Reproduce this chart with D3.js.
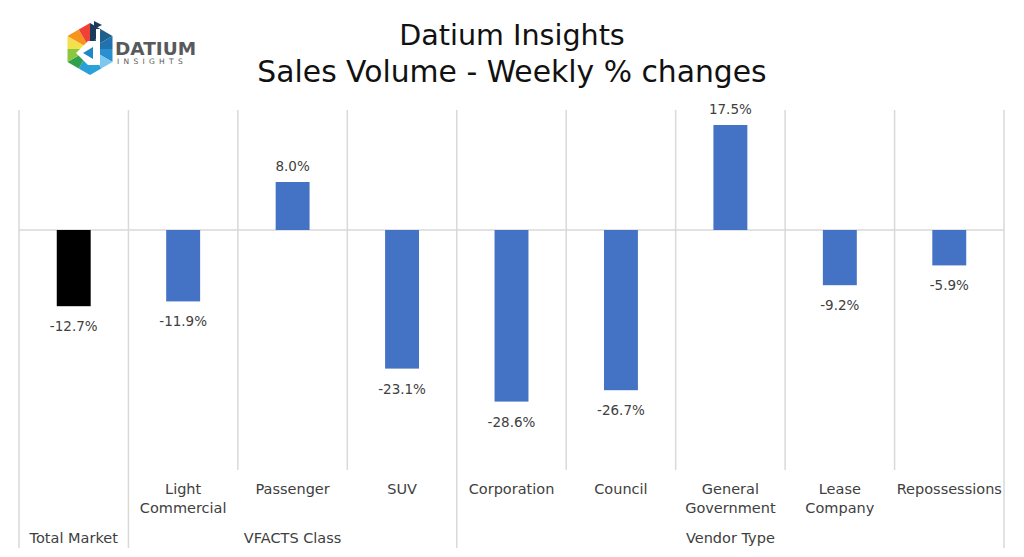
<!DOCTYPE html>
<html>
<head>
<meta charset="utf-8">
<script src="https://cdn.jsdelivr.net/npm/d3@7"></script>
<style>
  body { margin: 0; background: #fff; }
  svg { display: block; font-family: 'DejaVu Sans', sans-serif; }
</style>
</head>
<body>
<div class="chart"></div>
<script>
// Chart data
const categories = ['', 'Light\nCommercial', 'Passenger', 'SUV', 'Corporation', 'Council', 'General\nGovernment', 'Lease\nCompany', 'Repossessions']
const groups = ['Total Market', 'VFACTS Class', 'VFACTS Class', 'VFACTS Class', 'Vendor Type', 'Vendor Type', 'Vendor Type', 'Vendor Type', 'Vendor Type']
const values = [-12.7, -11.9, 8.0, -23.1, -28.6, -26.7, 17.5, -9.2, -5.9]
const barColors = ['#000000', '#4472c4', '#4472c4', '#4472c4', '#4472c4', '#4472c4', '#4472c4', '#4472c4', '#4472c4']

const width = 1024
const height = 557
const plotLeft = 19, plotRight = 1004, plotTop = 110, plotBottom = 470
const gridColor = '#d9d9d9'
const textColor = '#404040'

const svg = d3.select('.chart')
    .append('svg')
    .attr('width', width)
    .attr('height', height)

const xScale = d3.scaleBand()
    .domain(d3.range(values.length))
    .range([plotLeft, plotRight])
    .paddingInner(0.69)
    .paddingOuter(0.345)

const yScale = d3.scaleLinear()
    .domain([-40, 20])
    .range([plotBottom, plotTop])

const step = xScale.step()
const cellStart = i => xScale(i) - step * xScale.paddingInner() / 2

// vertical grid lines (category boundaries)
const bounds = d3.range(values.length + 1)
svg.append('g')
    .selectAll('line')
    .data(bounds)
    .enter()
    .append('line')
    .attr('x1', d => d < values.length ? cellStart(d) : cellStart(d - 1) + step)
    .attr('x2', d => d < values.length ? cellStart(d) : cellStart(d - 1) + step)
    .attr('y1', plotTop)
    .attr('y2', d => (d === 0 || d === values.length || groups[d] !== groups[d - 1]) ? 548 : plotBottom)
    .attr('stroke', gridColor)
    .attr('stroke-width', 1.5)

// zero line
svg.append('line')
    .attr('x1', plotLeft)
    .attr('x2', plotRight)
    .attr('y1', yScale(0))
    .attr('y2', yScale(0))
    .attr('stroke', gridColor)
    .attr('stroke-width', 1.5)

// bars
svg.append('g')
    .selectAll('rect')
    .data(values)
    .enter()
    .append('rect')
    .attr('x', (d, i) => xScale(i))
    .attr('y', d => yScale(Math.max(0, d)))
    .attr('width', xScale.bandwidth())
    .attr('height', d => Math.abs(yScale(d) - yScale(0)))
    .attr('fill', (d, i) => barColors[i])

// value labels
svg.append('g')
    .selectAll('text')
    .data(values)
    .enter()
    .append('text')
    .attr('x', (d, i) => xScale(i) + xScale.bandwidth() / 2)
    .attr('y', d => d >= 0 ? yScale(d) - 11 : yScale(d) + 25)
    .attr('text-anchor', 'middle')
    .attr('font-size', 13.5)
    .attr('fill', textColor)
    .text(d => d.toFixed(1) + '%')

// category labels
const catLabels = svg.append('g')
    .selectAll('text')
    .data(categories)
    .enter()
    .append('text')
    .attr('text-anchor', 'middle')
    .attr('font-size', 14.5)
    .attr('fill', textColor)

catLabels.selectAll('tspan')
    .data((d, i) => d.split('\n').map(t => ({ t, i })))
    .enter()
    .append('tspan')
    .attr('x', d => xScale(d.i) + xScale.bandwidth() / 2)
    .attr('y', (d, j) => 494 + j * 19)
    .text(d => d.t)

// group labels
const groupNames = Array.from(new Set(groups))
svg.append('g')
    .selectAll('text')
    .data(groupNames)
    .enter()
    .append('text')
    .attr('x', g => {
        const idx = groups.map((d, i) => d === g ? i : -1).filter(i => i >= 0)
        return (cellStart(idx[0]) + cellStart(idx[idx.length - 1]) + step) / 2
    })
    .attr('y', 543)
    .attr('text-anchor', 'middle')
    .attr('font-size', 14.5)
    .attr('fill', textColor)
    .text(g => g)

// title
svg.append('text')
    .attr('x', 512)
    .attr('y', 45)
    .attr('text-anchor', 'middle')
    .attr('font-size', 28.6)
    .attr('fill', '#111')
    .text('Datium Insights')

svg.append('text')
    .attr('x', 512)
    .attr('y', 82)
    .attr('text-anchor', 'middle')
    .attr('font-size', 29.8)
    .attr('fill', '#111')
    .text('Sales Volume - Weekly % changes')

// logo
const logo = svg.append('g').attr('transform', 'translate(90, 49)')
const R = 26
const hexPts = d3.range(6).map(k => {
    const a = Math.PI / 180 * (60 * k - 90)
    return [R * Math.cos(a), R * Math.sin(a)]
})
const logoColors = ['#1b3a5c', '#1f5f8b', '#2272ad', '#2a8fd0', '#7ec8ef', '#29a3dc',
                    '#2a9fd8', '#2e9f4f', '#8cc63f', '#f2e14c', '#f7941d', '#ef4136']
hexPts.forEach((p, k) => {
    const q = hexPts[(k + 1) % 6]
    const m = [(p[0] + q[0]) / 2, (p[1] + q[1]) / 2]
    logo.append('path')
        .attr('d', `M0,0L${p[0]},${p[1]}L${m[0]},${m[1]}Z`)
        .attr('fill', logoColors[k * 2])
    logo.append('path')
        .attr('d', `M0,0L${m[0]},${m[1]}L${q[0]},${q[1]}Z`)
        .attr('fill', logoColors[k * 2 + 1])
})
// white "d" shape in the middle
logo.append('path')
    .attr('d', 'M6,-20L10,-20L10,16L-2,16L-14,4L-2,-8L6,-8Z')
    .attr('fill', '#fff')
logo.append('path')
    .attr('d', 'M3,-2L3,10L-7,4Z')
    .attr('fill', '#1e88c7')
logo.append('path')
    .attr('d', 'M4,-28L12,-24L4,-20Z')
    .attr('fill', '#1b3a5c')

svg.append('text')
    .attr('x', 115)
    .attr('y', 55)
    .attr('font-size', 18.5)
    .attr('font-weight', 'bold')
    .attr('fill', '#58595b')
    .text('DATIUM')

svg.append('text')
    .attr('x', 117)
    .attr('y', 64)
    .attr('font-size', 7.5)
    .attr('letter-spacing', 4.3)
    .attr('fill', '#58595b')
    .text('INSIGHTS')
</script>
</body>
</html>
